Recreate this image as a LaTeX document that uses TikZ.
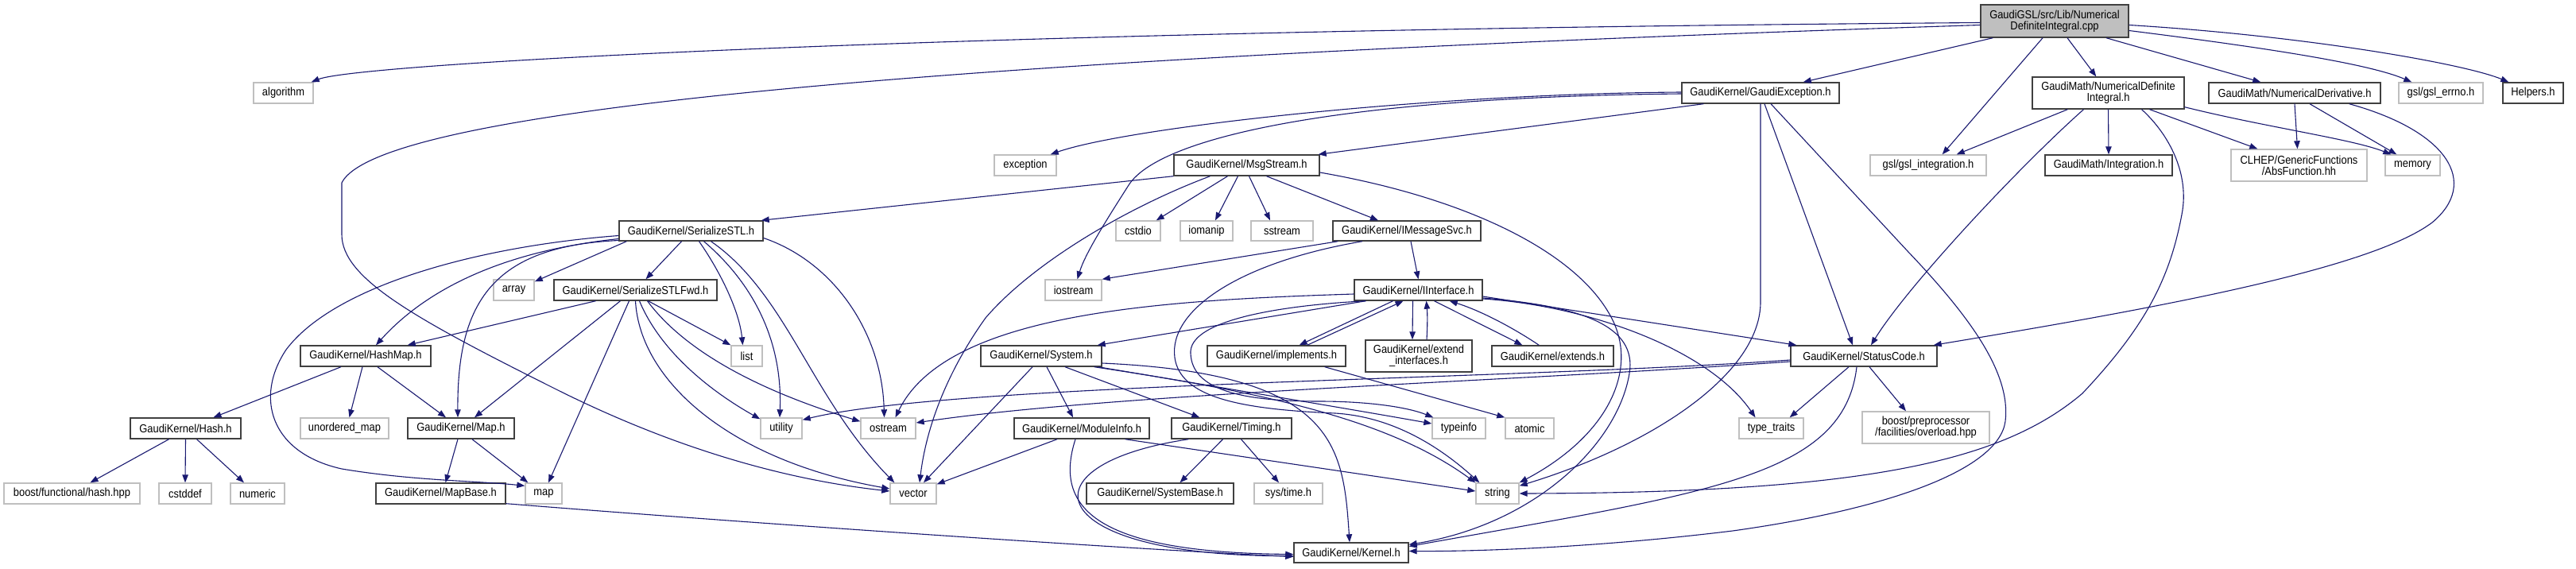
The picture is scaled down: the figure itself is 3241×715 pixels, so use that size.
\documentclass[tikz,border=0pt]{standalone}
\usepackage{fontspec}
\setmainfont{Liberation Sans}[FakeStretch=0.89]
\usetikzlibrary{arrows.meta,calc}
\definecolor{edgec}{HTML}{191970}
\definecolor{dk}{HTML}{404040}
\definecolor{lg}{HTML}{BFBFBF}
\tikzset{
  nb/.style={draw=dk, line width=1.4pt, fill=white, inner sep=1pt, font=\fontsize{14.5}{14.3}\selectfont, align=center, text=black},
  ng/.style={nb, draw=lg},
  nroot/.style={nb, fill=lg},
  e/.style={draw=edgec, line width=1.1pt, -{Triangle[length=10pt,width=7.5pt]}},
}
\newcommand\gn[7][nb]{\node[#1, minimum width={(#5)-(#3)}, minimum height={(#6)-(#4)}] (#2) at ({((#3)+(#5))/2},{((#4)+(#6))/2}) {#7};}
\begin{document}
\begin{tikzpicture}[x=1pt,y=-1pt]
\fill[white] (0,0) rectangle (3241,715);
\useasboundingbox (0,0) rectangle (3241,715);
% nodes
\gn[nroot]{root}{2492}{6}{2678}{47}{GaudiGSL/src/Lib/Numerical\\DefiniteIntegral.cpp}
\gn[ng]{algorithm}{319}{104}{394}{130}{algorithm}
\gn{gexc}{2116}{104}{2314}{130}{GaudiKernel/GaudiException.h}
\gn{ndi}{2557}{97}{2748}{137}{GaudiMath/NumericalDefinite\\Integral.h}
\gn{nder}{2779}{104}{2995}{130}{GaudiMath/NumericalDerivative.h}
\gn[ng]{errno}{3018}{104}{3124}{130}{gsl/gsl\_errno.h}
\gn{helpers}{3149}{104}{3225}{130}{Helpers.h}
\gn[ng]{exception}{1251}{195}{1329}{221}{exception}
\gn{msg}{1477}{195}{1660}{221}{GaudiKernel/MsgStream.h}
\gn[ng]{gslint}{2353}{195}{2499}{221}{gsl/gsl\_integration.h}
\gn{integ}{2573}{195}{2733}{221}{GaudiMath/Integration.h}
\gn[ng]{abs}{2807}{188}{2978}{228}{CLHEP/GenericFunctions\\/AbsFunction.hh}
\gn[ng]{memory}{3001}{195}{3070}{221}{memory}
\gn{sstl}{779}{278}{960}{303}{GaudiKernel/SerializeSTL.h}
\gn[ng]{cstdio}{1404}{278}{1460}{303}{cstdio}
\gn[ng]{iomanip}{1485}{278}{1551}{303}{iomanip}
\gn[ng]{sstream}{1574}{278}{1652}{303}{sstream}
\gn{imsg}{1677}{278}{1863}{303}{GaudiKernel/IMessageSvc.h}
\gn[ng]{array}{621}{352}{672}{378}{array}
\gn{sfwd}{697}{352}{902}{378}{GaudiKernel/SerializeSTLFwd.h}
\gn[ng]{iostream}{1315}{352}{1386}{378}{iostream}
\gn{iif}{1704}{352}{1865}{378}{GaudiKernel/IInterface.h}
\gn{hashmap}{378}{435}{542}{461}{GaudiKernel/HashMap.h}
\gn[ng]{list}{920}{435}{959}{461}{list}
\gn{system}{1234}{435}{1386}{461}{GaudiKernel/System.h}
\gn{impl}{1519}{435}{1693}{461}{GaudiKernel/implements.h}
\gn{extif}{1718}{428}{1852}{468}{GaudiKernel/extend\\\_interfaces.h}
\gn{extends}{1877}{435}{2030}{461}{GaudiKernel/extends.h}
\gn{status}{2253}{435}{2437}{461}{GaudiKernel/StatusCode.h}
\gn{hash}{164}{526}{303}{552}{GaudiKernel/Hash.h}
\gn[ng]{umap}{378}{526}{489}{552}{unordered\_map}
\gn{mapH}{513}{526}{647}{552}{GaudiKernel/Map.h}
\gn[ng]{utility}{957}{526}{1009}{552}{utility}
\gn[ng]{ostream}{1083}{526}{1152}{552}{ostream}
\gn{modinfo}{1276}{526}{1446}{552}{GaudiKernel/ModuleInfo.h}
\gn{timing}{1474}{526}{1625}{552}{GaudiKernel/Timing.h}
\gn[ng]{typeinfo}{1802}{526}{1869}{552}{typeinfo}
\gn[ng]{atomic}{1894}{526}{1955}{552}{atomic}
\gn[ng]{ttraits}{2188}{526}{2269}{552}{type\_traits}
\gn[ng]{boostpp}{2343}{518}{2503}{558}{boost/preprocessor\\/facilities/overload.hpp}
\gn[ng]{bfh}{5}{608}{176}{634}{boost/functional/hash.hpp}
\gn[ng]{cstddef}{200}{608}{266}{634}{cstddef}
\gn[ng]{numeric}{290}{608}{358}{634}{numeric}
\gn{mapbase}{473}{608}{636}{634}{GaudiKernel/MapBase.h}
\gn[ng]{map}{661}{608}{707}{634}{map}
\gn[ng]{vector}{1120}{608}{1178}{634}{vector}
\gn{sysbase}{1367}{608}{1552}{634}{GaudiKernel/SystemBase.h}
\gn[ng]{systime}{1578}{608}{1664}{634}{sys/time.h}
\gn[ng]{string}{1857}{608}{1911}{634}{string}
\gn{kernel}{1628}{683}{1772}{708}{GaudiKernel/Kernel.h}
% root edges
\draw[e] ($(root.west)+(0,2)$) .. controls (1200,38) and (450,80) .. ($(algorithm.north east)+(-3,0)$);
\draw[e] ($(root.west)+(0,5)$) .. controls (1300,70) and (480,130) .. (430,230) -- (430,295) .. controls (430,350) and (520,400) .. (700,490) .. controls (860,570) and (1000,605) .. ($(vector.west)+(0,-3)$);
\draw[e] ($(root.south west)+(16,0)$) -- ($(gexc.north east)+(-46,0)$);
\draw[e] ($(root.south)+(-15,0)$) -- ($(gslint.north east)+(-56,0)$);
\draw[e] ($(root.south)+(16,0)$) -- ($(ndi.north west)+(81,0)$);
\draw[e] ($(root.south)+(65,0)$) -- ($(nder.north west)+(66,0)$);
\draw[e] ($(root.east)+(0,12)$) .. controls (2850,60) and (2980,80) .. ($(errno.north west)+(17,0)$);
\draw[e] ($(root.east)+(0,5)$) .. controls (2900,45) and (3100,80) .. ($(helpers.north west)+(8,0)$);
% GaudiException
\draw[e] ($(gexc.west)+(0,-1)$) .. controls (1800,118) and (1420,160) .. ($(exception.north east)+(-8,0)$);
\draw[e] ($(gexc.west)+(0,1)$) .. controls (1700,122) and (1460,170) .. (1420,233) .. controls (1390,280) and (1365,320) .. ($(iostream.north)+(5,0)$);
\draw[e] ($(gexc.south west)+(28,0)$) -- ($(msg.north east)+(-2,0)$);
\draw[e] (gexc.south) -- (2215,380) .. controls (2215,470) and (2080,560) .. ($(string.north east)+(0,4)$);
\draw[e] ($(gexc.south)+(5,0)$) -- ($(status.north)+(-14,0)$);
\draw[e] ($(gexc.south)+(13,0)$) -- (2400,316) .. controls (2480,400) and (2530,470) .. (2523,530) .. controls (2515,590) and (2380,640) .. (2180,668) .. controls (2000,690) and (1850,694) .. ($(kernel.east)+(0,-2)$);
% NumericalDefiniteIntegral
\draw[e] ($(ndi.south west)+(45,0)$) -- ($(gslint.north east)+(-38,0)$);
\draw[e] ($(ndi.south)+(-31,0)$) .. controls (2540,210) and (2400,360) .. ($(status.north)+(9,0)$);
\draw[e] (ndi.south) -- (integ.north);
\draw[e] ($(ndi.south)+(42,0)$) .. controls (2730,170) and (2755,220) .. (2745,270) .. controls (2730,350) and (2700,410) .. (2620,495) .. controls (2520,580) and (2350,620) .. (string.east);
\draw[e] ($(ndi.south)+(52,0)$) -- ($(abs.north west)+(34,0)$);
\draw[e] ($(ndi.south east)+(0,-3)$) .. controls (2850,160) and (2960,175) .. ($(memory.north west)+(8,0)$);
% NumericalDerivative
\draw[e] (nder.south) -- ($(abs.north)+(-2,0)$);
\draw[e] ($(nder.south)+(19,0)$) -- ($(memory.north west)+(15,0)$);
\draw[e] ($(nder.south east)+(-40,0)$) .. controls (3080,165) and (3120,230) .. (3060,280) .. controls (2980,340) and (2700,390) .. ($(status.north east)+(-5,0)$);
% MsgStream
\draw[e] (msg.south west) -- ($(sstl.north east)+(-3,0)$);
\draw[e] ($(msg.south)+(-24,0)$) -- ($(cstdio.north east)+(-6,0)$);
\draw[e] ($(msg.south)+(-11,0)$) -- ($(iomanip.north)+(11,0)$);
\draw[e] ($(msg.south)+(3,0)$) -- ($(sstream.north)+(-15,0)$);
\draw[e] ($(msg.south)+(25,0)$) -- ($(imsg.north)+(-36,0)$);
\draw[e] ($(msg.south)+(-46,0)$) .. controls (1420,260) and (1300,330) .. (1240,400) .. controls (1190,470) and (1165,540) .. ($(vector.north)+(8,0)$);
\draw[e] ($(msg.east)+(0,9)$) .. controls (1850,250) and (1990,320) .. (2030,405) .. controls (2060,470) and (2020,550) .. (string.north east);
% IMessageSvc
\draw[e] ($(imsg.south)+(5,0)$) -- (iif.north);
\draw[e] ($(imsg.south west)+(7,0)$) -- (iostream.north east);
\draw[e] ($(imsg.south)+(-56,0)$) .. controls (1560,330) and (1470,390) .. (1478,450) .. controls (1485,500) and (1560,515) .. (1680,520) .. controls (1760,525) and (1820,570) .. ($(string.north west)+(5,0)$);
% IInterface
\draw[e] ($(iif.south)+(-7,0)$) -- ($(extif.north)+(-8,0)$);
\draw[e] ($(extif.north)+(10,0)$) .. controls (1796,410) and (1796,395) .. ($(iif.south)+(10,0)$);
\draw[e] ($(iif.south)+(-32,0)$) -- ($(impl.north east)+(-59,0)$);
\draw[e] ($(impl.north east)+(-49,0)$) -- ($(iif.south)+(-19,0)$);
\draw[e] ($(iif.south)+(20,0)$) -- ($(extends.north west)+(39,0)$);
\draw[e] ($(extends.north west)+(60,0)$) .. controls (1900,410) and (1860,390) .. ($(iif.south east)+(-42,0)$);
\draw[e] ($(iif.south west)+(15,0)$) -- ($(system.north east)+(-6,0)$);
\draw[e] ($(iif.west)+(0,5)$) .. controls (1450,378) and (1190,395) .. ($(ostream.north)+(9,0)$);
\draw[e] ($(iif.south west)+(15,0)$) .. controls (1600,385) and (1495,405) .. (1498,445) .. controls (1500,490) and (1560,505) .. (1660,505) .. controls (1720,505) and (1770,512) .. ($(typeinfo.north west)+(2,0)$);
\draw[e] ($(iif.east)+(0,8)$) -- ($(status.north west)+(8,0)$);
\draw[e] ($(iif.east)+(0,11)$) .. controls (2000,385) and (2150,440) .. ($(ttraits.north)+(-20,0)$);
\draw[e] ($(iif.east)+(0,10)$) .. controls (1990,385) and (2060,410) .. (2050,470) .. controls (2035,560) and (1930,660) .. ($(kernel.north east)+(0,3)$);
% StatusCode
\draw[e] ($(status.south)+(-19,0)$) -- ($(ttraits.north east)+(-18,0)$);
\draw[e] ($(status.south)+(7,0)$) -- ($(boostpp.north)+(-25,0)$);
\draw[e] ($(status.south)+(-9,0)$) .. controls (2320,600) and (2150,620) .. ($(kernel.east)+(0,-8)$);
\draw[e] ($(status.west)+(0,5)$) .. controls (1900,478) and (1200,482) .. ($(utility.north east)+(0,3)$);
\draw[e] ($(status.west)+(0,7)$) .. controls (1900,480) and (1400,495) .. ($(ostream.east)+(0,-7)$);
% implements
\draw[e] ($(impl.south east)+(-27,0)$) -- (atomic.north west);
% System
\draw[e] ($(system.south)+(-11,0)$) -- ($(vector.north)+(13,0)$);
\draw[e] ($(system.south)+(7,0)$) -- ($(modinfo.north)+(-11,0)$);
\draw[e] ($(system.south)+(30,0)$) -- ($(timing.north west)+(36,0)$);
\draw[e] ($(system.south east)+(-5,0)$) .. controls (1550,490) and (1700,515) .. ($(typeinfo.west)+(0,-6)$);
\draw[e] ($(system.south east)+(-10,0)$) .. controls (1600,495) and (1750,530) .. (string.north west);
\draw[e] ($(system.east)+(0,9)$) .. controls (1680,470) and (1690,560) .. ($(kernel.north)+(-2,0)$);
% ModuleInfo
\draw[e] ($(modinfo.south)+(-31,0)$) -- ($(vector.north east)+(0,2)$);
\draw[e] ($(modinfo.south)+(-8,0)$) .. controls (1325,640) and (1380,695) .. ($(kernel.west)+(0,2)$);
\draw[e] ($(modinfo.south east)+(-31,0)$) -- ($(string.west)+(0,-3)$);
% Timing
\draw[e] ($(timing.south)+(-11,0)$) -- ($(sysbase.north)+(25,0)$);
\draw[e] ($(timing.south)+(12,0)$) -- ($(systime.north)+(-12,0)$);
\draw[e] ($(timing.south west)+(22,0)$) .. controls (1280,585) and (1310,700) .. ($(kernel.west)+(0,4)$);
% MapBase
\draw[e] ($(mapbase.south east)+(0,-1)$) .. controls (900,655) and (1400,690) .. ($(kernel.west)+(0,5)$);
% HashMap
\draw[e] ($(hashmap.south)+(-31,0)$) -- ($(hash.north)+(35,0)$);
\draw[e] ($(hashmap.south)+(-4,0)$) -- ($(umap.north)+(6,0)$);
\draw[e] ($(hashmap.south)+(15,0)$) -- ($(mapH.north)+(-19,0)$);
% Hash
\draw[e] ($(hash.south)+(-21,0)$) -- ($(bfh.north)+(23,0)$);
\draw[e] (hash.south) -- (cstddef.north);
\draw[e] ($(hash.south)+(14,0)$) -- ($(numeric.north)+(-17,0)$);
% Map
\draw[e] ($(mapH.south)+(-4,0)$) -- ($(mapbase.north)+(6,0)$);
\draw[e] ($(mapH.south)+(14,0)$) -- ($(map.north west)+(4,0)$);
% SerializeSTL
\draw[e] ($(sstl.south)+(-12,0)$) -- ($(sfwd.north)+(13,0)$);
\draw[e] ($(sstl.south west)+(10,0)$) -- ($(array.north east)+(0,3)$);
\draw[e] ($(sstl.west)+(0,10)$) .. controls (640,315) and (540,360) .. ($(hashmap.north)+(13,0)$);
\draw[e] ($(sstl.west)+(0,12)$) .. controls (620,310) and (575,380) .. ($(mapH.north)+(-4,0)$);
\draw[e] ($(sstl.west)+(0,6)$) .. controls (600,310) and (420,360) .. (360,440) .. controls (320,500) and (340,570) .. (430,590) .. controls (520,605) and (600,605) .. ($(map.north west)+(0,4)$);
\draw[e] ($(sstl.south)+(10,0)$) .. controls (905,340) and (930,390) .. ($(list.north)+(-5,0)$);
\draw[e] ($(sstl.south)+(16,0)$) .. controls (940,350) and (985,420) .. ($(utility.north)+(-2,0)$);
\draw[e] ($(sstl.south)+(25,0)$) .. controls (990,370) and (1020,500) .. ($(vector.north west)+(6,0)$);
\draw[e] ($(sstl.east)+(0,9)$) .. controls (1050,330) and (1110,420) .. ($(ostream.north)+(-5,0)$);
% SerializeSTLFwd
\draw[e] ($(sfwd.south)+(-50,0)$) -- ($(hashmap.north east)+(-30,0)$);
\draw[e] ($(sfwd.south)+(-19,0)$) -- ($(mapH.north)+(17,0)$);
\draw[e] ($(sfwd.south)+(-8,0)$) -- ($(map.north)+(6,0)$);
\draw[e] ($(sfwd.south)+(16,0)$) -- (list.north west);
\draw[e] ($(sfwd.south)+(5,0)$) .. controls (830,440) and (890,490) .. ($(utility.north west)+(0,2)$);
\draw[e] ($(sfwd.south)+(15,0)$) .. controls (860,440) and (950,490) .. ($(ostream.north west)+(0,5)$);
\draw[e] (sfwd.south) .. controls (805,480) and (920,580) .. ($(vector.west)+(0,-6)$);
\end{tikzpicture}
\end{document}
